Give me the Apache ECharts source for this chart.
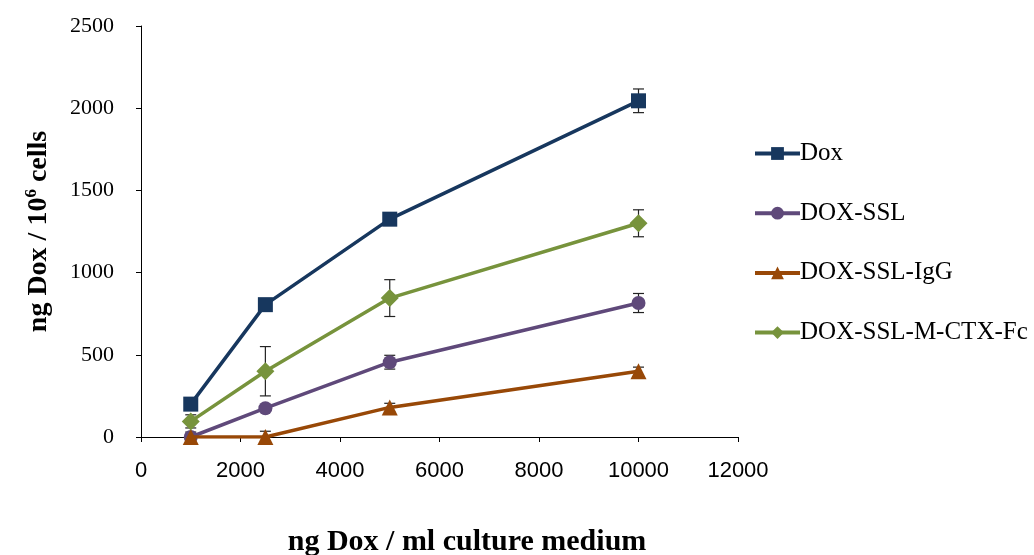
<!DOCTYPE html>
<html>
<head>
<meta charset="utf-8">
<script src="https://cdn.jsdelivr.net/npm/echarts@6/dist/echarts.min.js"></script>
<style>
  html, body { margin: 0; padding: 0; background: #fff; }
  #main { width: 1034px; height: 555px; }
</style>
</head>
<body>
<div id="main"></div>
<script>
// x values (ng Dox / ml)
var doses = [1000, 2500, 5000, 10000];

var seriesNames = ['Dox', 'DOX-SSL', 'DOX-SSL-IgG', 'DOX-SSL-M-CTX-Fc'];

// mean values
var dox = [200, 805, 1325, 2045];
var doxSSL = [0, 175, 455, 815];
var doxIgG = [0, 0, 180, 400];
var doxMCTX = [95, 400, 845, 1300];

// error bars (+/-)
var doxErr = [15, 20, 25, 72];
var doxSSLErr = [30, 15, 42, 58];
var doxIgGErr = [15, 35, 25, 25];
var doxMCTXErr = [40, 150, 112, 82];

var colors = ['#17375e', '#5f497a', '#984807', '#77933c'];
var symbols = ['rect', 'circle', 'triangle', 'diamond'];
var symbolSizes = [15, 14, 16, 18];
var values = [dox, doxSSL, doxIgG, doxMCTX];
var errors = [doxErr, doxSSLErr, doxIgGErr, doxMCTXErr];

var chart = echarts.init(document.getElementById('main'));

var series = [];
for (let i = 0; i < seriesNames.length; i++) {
  series.push({
    name: seriesNames[i],
    type: 'line',
    data: doses.map((d, k) => [d, values[i][k]]),
    symbol: symbols[i],
    symbolSize: symbolSizes[i],
    showAllSymbol: true,
    lineStyle: { color: colors[i], width: 3.5 },
    itemStyle: { color: colors[i] },
    z: 3 + i,
    animation: false
  });
}

// error bars drawn under the markers
for (let i = 0; i < seriesNames.length; i++) {
  series.push({
    type: 'custom',
    name: seriesNames[i] + '-err',
    data: doses.map((d, k) => [d, values[i][k] - errors[i][k], values[i][k] + errors[i][k]]),
    renderItem: function (params, api) {
      var lo = api.coord([api.value(0), api.value(1)]);
      var hi = api.coord([api.value(0), api.value(2)]);
      var w = 5.5;
      var st = { stroke: '#222', lineWidth: 1.2 };
      return {
        type: 'group',
        children: [
          { type: 'line', shape: { x1: lo[0], y1: lo[1], x2: hi[0], y2: hi[1] }, style: st },
          { type: 'line', shape: { x1: lo[0] - w, y1: lo[1], x2: lo[0] + w, y2: lo[1] }, style: st },
          { type: 'line', shape: { x1: hi[0] - w, y1: hi[1], x2: hi[0] + w, y2: hi[1] }, style: st }
        ]
      };
    },
    z: 1,
    silent: true,
    animation: false
  });
}

var option = {
  backgroundColor: '#fff',
  animation: false,
  grid: {
    left: 141,
    right: 296,
    top: 26,
    bottom: 118,
    containLabel: false,
    outerBoundsMode: 'none'
  },
  legend: {
    orient: 'vertical',
    left: 748,
    top: 136,
    itemWidth: 45,
    itemHeight: 16,
    itemGap: 34.7,
    data: seriesNames,
    lineStyle: { width: 4 },
    textStyle: {
      fontFamily: 'Liberation Serif',
      fontSize: 25,
      color: '#000',
      lineHeight: 24,
      padding: [0, 0, 0, -5]
    }
  },
  xAxis: {
    type: 'value',
    min: 0,
    max: 12000,
    interval: 2000,
    name: 'ng Dox / ml culture medium',
    nameLocation: 'middle',
    nameGap: 90,
    nameTextStyle: {
      fontFamily: 'Liberation Serif',
      fontWeight: 'bold',
      fontSize: 30,
      color: '#000',
      padding: [0, 0, 0, 55]
    },
    splitLine: { show: false },
    axisLine: { onZero: false, lineStyle: { color: '#000', width: 1 } },
    axisTick: { show: true, length: 5, inside: false, lineStyle: { color: '#000' } },
    axisLabel: {
      margin: 23,
      fontFamily: 'Liberation Sans',
      fontSize: 22,
      color: '#000',
      formatter: v => String(v)
    }
  },
  yAxis: {
    type: 'value',
    min: 0,
    max: 2500,
    interval: 500,
    name: '{b|ng Dox / 10}{s|6}{b| cells}',
    nameLocation: 'middle',
    nameGap: 88,
    nameTextStyle: {
      rich: {
        b: {
          fontFamily: 'Liberation Serif',
          fontWeight: 'bold',
          fontSize: 28,
          color: '#000',
          lineHeight: 30,
          verticalAlign: 'bottom'
        },
        s: {
          fontFamily: 'Liberation Serif',
          fontWeight: 'bold',
          fontSize: 17,
          color: '#000',
          lineHeight: 30,
          verticalAlign: 'top'
        }
      }
    },
    splitLine: { show: false },
    axisLine: { show: true, lineStyle: { color: '#000', width: 1 } },
    axisTick: { show: true, length: 5, inside: false, lineStyle: { color: '#000' } },
    axisLabel: {
      margin: 27,
      fontFamily: 'Liberation Serif',
      fontSize: 22,
      color: '#000',
      formatter: v => String(v)
    }
  },
  series: series
};

chart.setOption(option);
</script>
</body>
</html>
